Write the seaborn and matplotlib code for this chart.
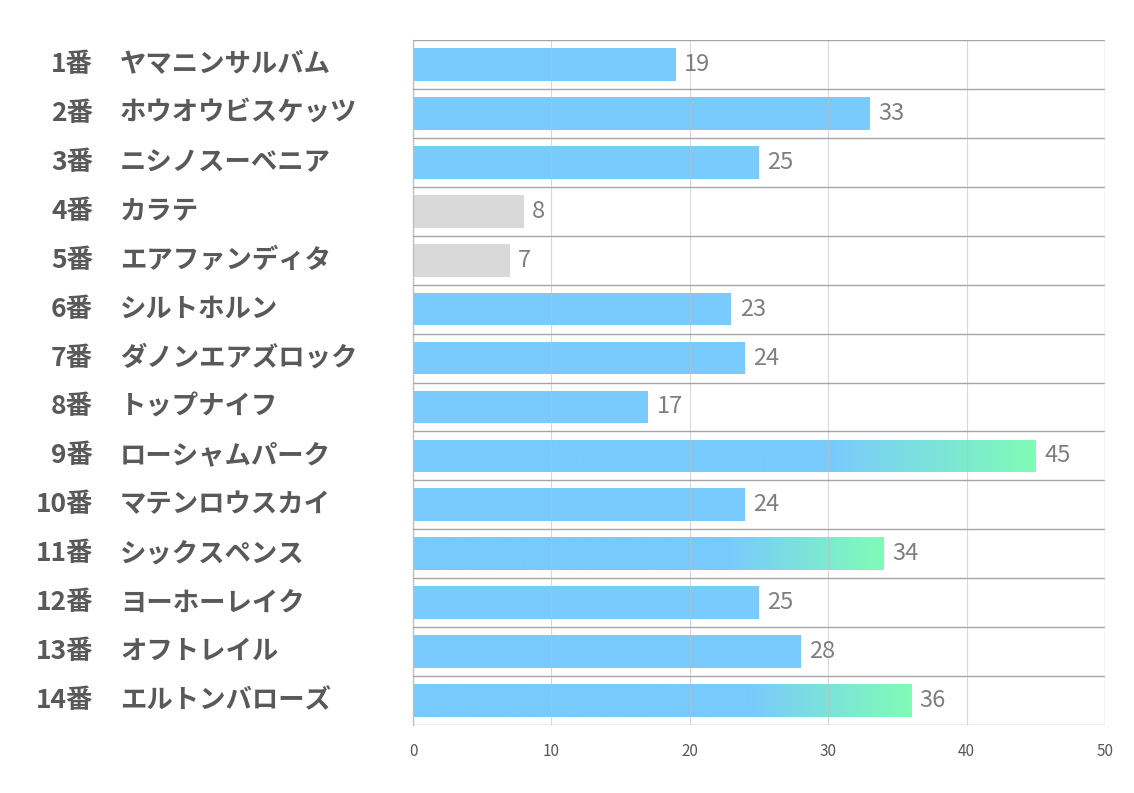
import numpy as np
import pandas as pd
import matplotlib
matplotlib.use("Agg")
import matplotlib.pyplot as plt
import seaborn as sns
from matplotlib.transforms import blended_transform_factory
from matplotlib.colors import LinearSegmentedColormap

numbers = ["1番", "2番", "3番", "4番", "5番", "6番", "7番", "8番", "9番", "10番", "11番", "12番", "13番", "14番"]
horses = ["ヤマニンサルバム", "ホウオウビスケッツ", "ニシノスーベニア", "カラテ", "エアファンディタ",
          "シルトホルン", "ダノンエアズロック", "トップナイフ", "ローシャムパーク", "マテンロウスカイ",
          "シックスペンス", "ヨーホーレイク", "オフトレイル", "エルトンバローズ"]
values = [19, 33, 25, 8, 7, 23, 24, 17, 45, 24, 34, 25, 28, 36]
xticks = [0, 10, 20, 30, 40, 50]

sns.set_theme(style="white")
plt.rcParams['font.family'] = ['Noto Sans CJK JP', 'DejaVu Sans']

BLUE = "#79CAFD"
GRAY = "#D9D9D9"
GREEN = "#7FFCB6"

df = pd.DataFrame({"label": [f"{n} {h}" for n, h in zip(numbers, horses)], "value": values})
order = np.argsort(values)
low = set(order[:2])
top = set(order[-3:])
palette = [GRAY if i in low else BLUE for i in range(len(values))]

fig = plt.figure(figsize=(11.34, 7.93), dpi=100)
ax = fig.add_axes([413/1134, 1-725/793, (1105-413)/1134, (725-40)/793])

sns.barplot(data=df, y="label", x="value", hue="label", palette=palette, legend=False,
            orient="h", width=0.67, ax=ax, saturation=1, linewidth=0)

# gradient overlays on top-3 bars (blue for first ~2/3, then fade to green)
cmap = LinearSegmentedColormap.from_list("bg", [(0, BLUE), (0.67, BLUE), (1, GREEN)], N=512)
grad = np.linspace(0, 1, 512).reshape(1, -1)
patches = [b for c in ax.containers for b in c]
for p in patches:
    y0 = p.get_y(); h = p.get_height(); w = p.get_width()
    idx = int(round(y0 + h / 2))
    if idx in top:
        im = ax.imshow(grad, extent=(0, w, y0 + h + 0.05, y0 - 0.05), aspect="auto", cmap=cmap,
                       zorder=p.get_zorder() + 0.1, interpolation="bilinear")
        im.set_clip_path(p)
ax.set_xlim(0, 50)
ax.set_ylim(len(values) - 0.5, -0.5)

for c in ax.containers:
    ax.bar_label(c, padding=6, fontsize=17, color="#7F7F7F")

# grid
ax.set_xticks(xticks)
ax.set_xticklabels([str(t) for t in xticks], fontsize=11, color="#595959")
ax.tick_params(axis="x", length=0, pad=13)
ax.set_yticks([])
ax.tick_params(axis="y", which="both", length=0)
ax.grid(True, axis="x", which="major", color="#BFBFBF", linewidth=0.8, alpha=0.6, zorder=5)
ax.set_axisbelow(False)
for b in list(np.arange(len(values)) - 0.5) + [len(values) - 0.5]:
    ax.axhline(b, color="#A6A6A6", linewidth=1.0, zorder=6)
for s in ["top", "right", "bottom"]:
    ax.spines[s].set_visible(False)
ax.spines["left"].set_color("#BFBFBF")
ax.spines["left"].set_linewidth(1.0)
ax.axvline(50, color="#D9D9D9", linewidth=1.0, zorder=6)
ax.set_xlabel("")
ax.set_ylabel("")

tr = blended_transform_factory(fig.transFigure, ax.transData)
for i, (n, h) in enumerate(zip(numbers, horses)):
    ax.text(93/1134, i, n, transform=tr, ha="right", va="center", fontsize=19, fontweight="bold",
            color="#595959")
    ax.text(120/1134, i, h, transform=tr, ha="left", va="center", fontsize=19, fontweight="bold",
            color="#595959")

fig.savefig("out.png", dpi=100)
